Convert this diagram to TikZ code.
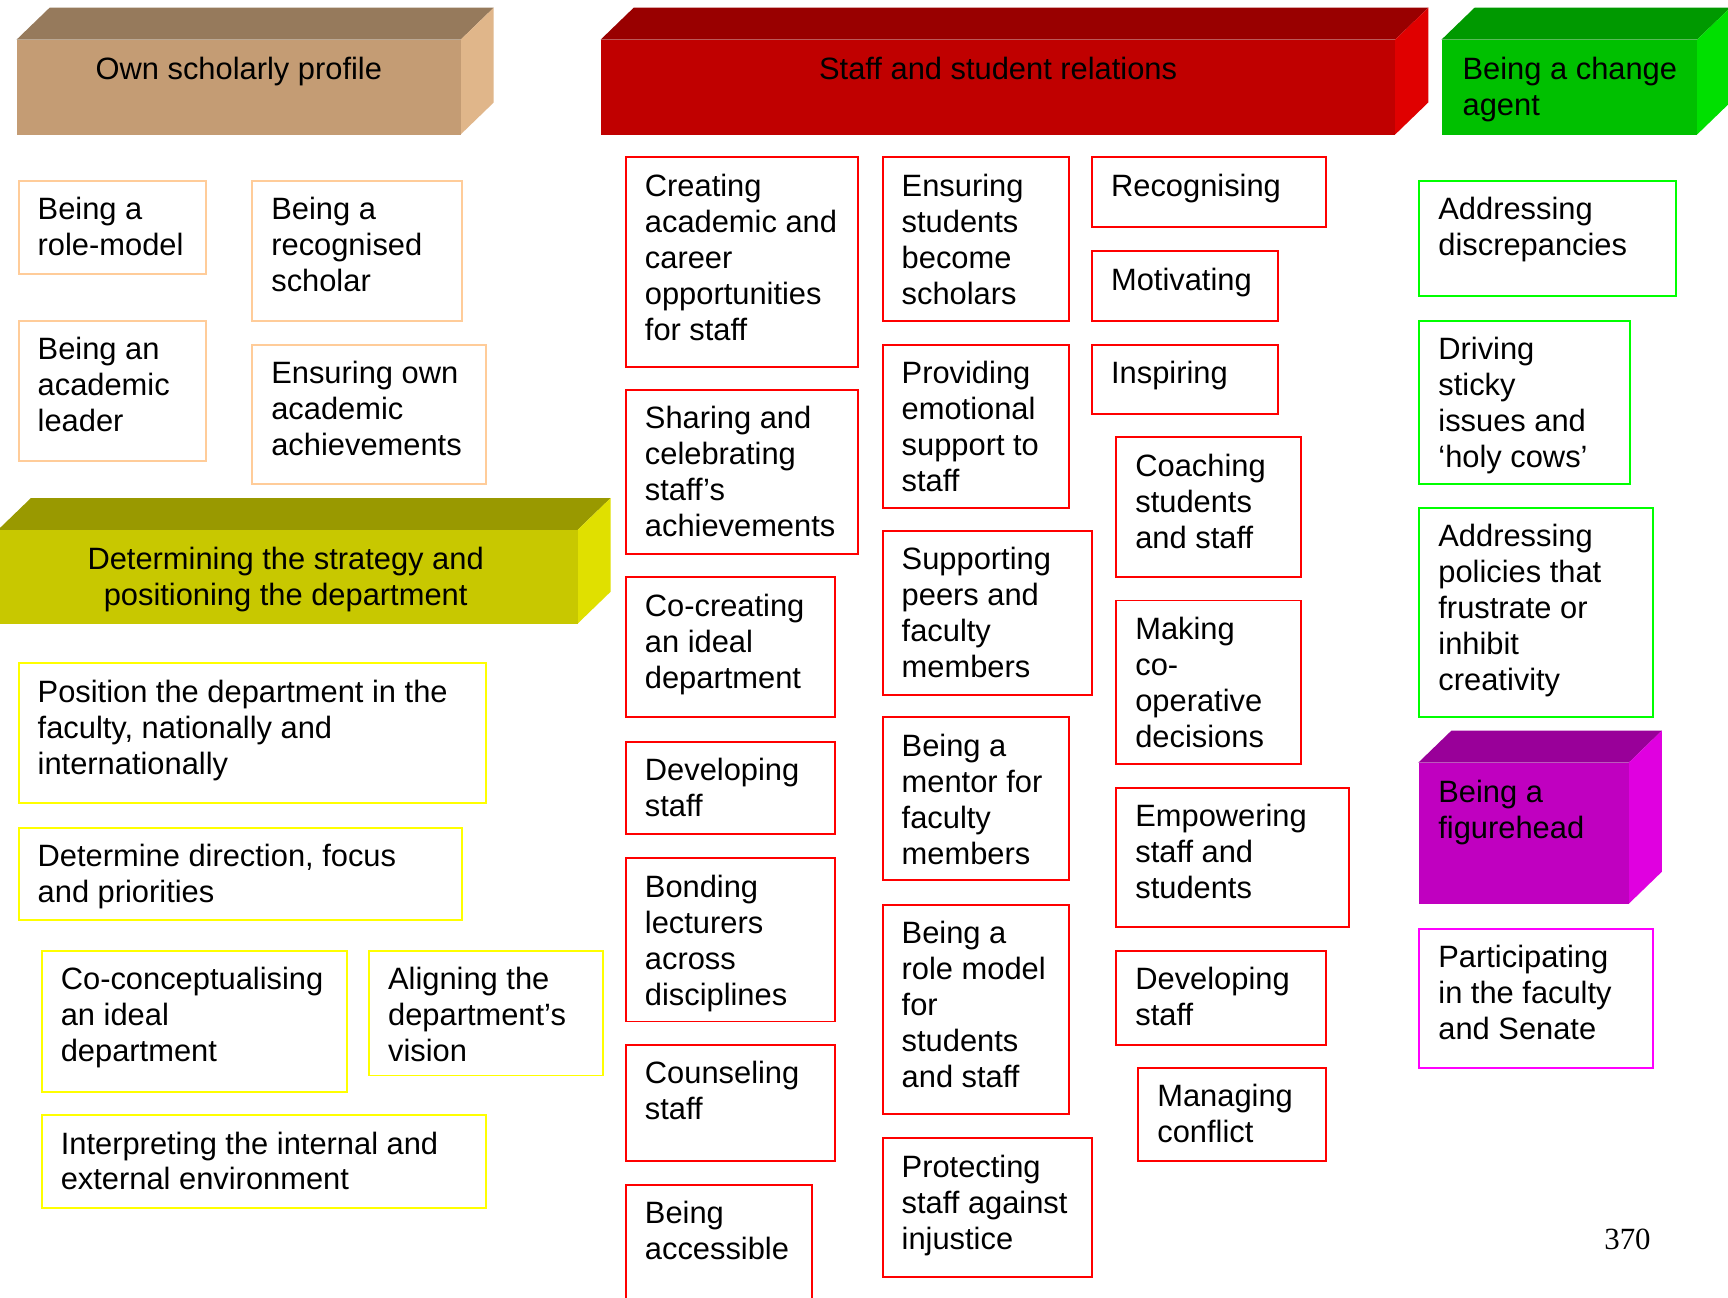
\documentclass[tikz,border=0pt]{standalone}
\usepackage{fontspec}
\setmainfont{Liberation Sans}
\newfontfamily\pgserif{Liberation Serif}
\usetikzlibrary{calc}
\definecolor{peach}{RGB}{255,204,153}
\definecolor{ylw}{RGB}{255,255,0}
\definecolor{rd}{RGB}{255,0,0}
\definecolor{grn}{RGB}{0,255,0}
\definecolor{mag}{RGB}{255,0,255}
\definecolor{tanF}{RGB}{196,156,116}
\definecolor{tanT}{RGB}{150,122,92}
\definecolor{tanS}{RGB}{224,182,138}
\definecolor{redF}{RGB}{192,0,0}
\definecolor{redT}{RGB}{153,0,0}
\definecolor{redS}{RGB}{224,0,0}
\definecolor{grnF}{RGB}{0,192,0}
\definecolor{grnT}{RGB}{0,153,0}
\definecolor{grnS}{RGB}{0,224,0}
\definecolor{olvF}{RGB}{200,200,0}
\definecolor{olvT}{RGB}{153,153,0}
\definecolor{olvS}{RGB}{224,224,0}
\definecolor{magF}{RGB}{192,0,192}
\definecolor{magT}{RGB}{153,0,153}
\definecolor{magS}{RGB}{224,0,224}
\tikzset{
  boxs/.style={anchor=north west, inner sep=0pt, line width=1.8pt, fill=white},
  txt/.style={anchor=north west, inner sep=0pt, align=left, font=\fontsize{28}{32.6}\selectfont},
  htxt/.style={anchor=north, inner sep=0pt, align=center, font=\fontsize{28}{32.6}\selectfont},
  front/.style={anchor=north west, inner sep=0pt}
}
% box: name, colour, x, y, w, h, text
\newcommand\bx[7]{%
  \node[boxs, draw=#2, minimum width=#5, minimum height=#6] (#1) at (#3,#4) {};
  \node[txt] (#1t) at ([xshift=18pt,yshift=-12pt]#1.north west) {\rule{0pt}{24pt}#7};
}
% header: name, x1, x2, ytop, ybot, colour prefix
\newcommand\hdr[6]{%
  \fill[#6T] (#2,#4) -- (#2+30,#4-29) -- (#3+30,#4-29) -- (#3,#4) -- cycle;
  \fill[#6S] (#3,#4) -- (#3+30,#4-29) -- (#3+30,#5-29) -- (#3,#5) -- cycle;
  \node[front, fill=#6F, minimum width=#3-#2, minimum height=#5-#4] (#1) at (#2,#4) {};
}
\begin{document}
\begin{tikzpicture}[x=1pt,y=-1pt]
\useasboundingbox (0,0) rectangle (1568,1177);
\fill[white] (0,0) rectangle (1568,1177);

% headers
\hdr{hOwn}{15}{418}{36}{122}{tan}
\node[htxt] (hOwnt) at ([yshift=-12pt]hOwn.north) {\rule{0pt}{24pt}Own scholarly profile};
\hdr{hStaff}{545}{1266}{36}{122}{red}
\node[htxt] (hStafft) at ([yshift=-12pt]hStaff.north) {\rule{0pt}{24pt}Staff and student relations};
\hdr{hChange}{1308}{1540}{36}{122}{grn}
\node[txt] (hChanget) at ([xshift=19pt,yshift=-12pt]hChange.north west) {\rule{0pt}{24pt}Being a change\\agent};
\hdr{hStrat}{-2}{524}{481}{566}{olv}
\node[htxt] (hStratt) at ([xshift=-2pt,yshift=-12pt]hStrat.north) {\rule{0pt}{24pt}Determining the strategy and\\positioning the department};
\hdr{hFig}{1287}{1478}{692}{820}{mag}
\node[txt] (hFigt) at ([xshift=18pt,yshift=-12pt]hFig.north west) {\rule{0pt}{24pt}Being a\\figurehead};

% own scholarly profile
\bx{b1}{peach}{16}{163}{170}{85}{Being a\\role-model}
\bx{b2}{peach}{228}{163}{190}{127}{Being a\\recognised\\scholar}
\bx{b3}{peach}{16}{290}{170}{127}{Being an\\academic\\leader}
\bx{b4}{peach}{228}{312}{212}{126}{Ensuring own\\academic\\achievements}

% strategy
\bx{y1}{ylw}{16}{601}{424}{127}{Position the department in the\\faculty, nationally and\\internationally}
\bx{y2}{ylw}{16}{750}{402}{84}{Determine direction, focus\\and priorities}
\bx{y3}{ylw}{37}{862}{277}{128}{Co-conceptualising\\an ideal\\department}
\bx{y4}{ylw}{334}{862}{212}{113}{Aligning the\\department’s\\vision}
\bx{y5}{ylw}{37}{1011}{403}{84}{Interpreting the internal and\\external environment}

% staff and student relations, column A
\bx{r1}{rd}{567}{142}{211}{190}{Creating\\academic and\\career\\opportunities\\for staff}
\bx{r2}{rd}{567}{353}{211}{149}{Sharing and\\celebrating\\staff’s\\achievements}
\bx{r3}{rd}{567}{523}{190}{127}{Co-creating\\an ideal\\department}
\bx{r4}{rd}{567}{672}{190}{84}{Developing\\staff}
\bx{r5}{rd}{567}{778}{190}{148}{Bonding\\lecturers\\across\\disciplines}
\bx{r6}{rd}{567}{947}{190}{106}{Counseling\\staff}
\bx{r7}{rd}{567}{1074}{169}{125}{Being\\accessible}

% column B
\bx{r8}{rd}{800}{142}{169}{148}{Ensuring\\students\\become\\scholars}
\bx{r9}{rd}{800}{312}{169}{148}{Providing\\emotional\\support to\\staff}
\bx{r10}{rd}{800}{481}{190}{149}{Supporting\\peers and\\faculty\\members}
\bx{r11}{rd}{800}{650}{169}{148}{Being a\\mentor for\\faculty\\members}
\bx{r12}{rd}{800}{820}{169}{190}{Being a\\role model\\for\\students\\and staff}
\bx{r13}{rd}{800}{1032}{190}{126}{Protecting\\staff against\\injustice}

% column C
\bx{r14}{rd}{990}{142}{212}{63}{Recognising}
\bx{r15}{rd}{990}{227}{169}{63}{Motivating}
\bx{r16}{rd}{990}{312}{169}{63}{Inspiring}
\bx{r17}{rd}{1012}{396}{168}{127}{Coaching\\students\\and staff}
\bx{r18}{rd}{1012}{544}{168}{148}{Making\\co-\\operative\\decisions}
\bx{r19}{rd}{1012}{714}{211}{126}{Empowering\\staff and\\students}
\bx{r20}{rd}{1012}{862}{190}{85}{Developing\\staff}
\bx{r21}{rd}{1032}{968}{170}{85}{Managing\\conflict}

% change agent
\bx{g1}{grn}{1287}{163}{233}{105}{Addressing\\discrepancies}
\bx{g2}{grn}{1287}{290}{191}{148}{Driving\\sticky\\issues and\\‘holy cows’}
\bx{g3}{grn}{1287}{460}{212}{190}{Addressing\\policies that\\frustrate or\\inhibit\\creativity}

% figurehead
\bx{m1}{mag}{1287}{842}{212}{126}{Participating\\in the faculty\\and Senate}

\node[anchor=base east, inner sep=0pt, font=\pgserif\fontsize{28}{32}\selectfont] (pg) at (1498,1134) {370};
\end{tikzpicture}
\end{document}
